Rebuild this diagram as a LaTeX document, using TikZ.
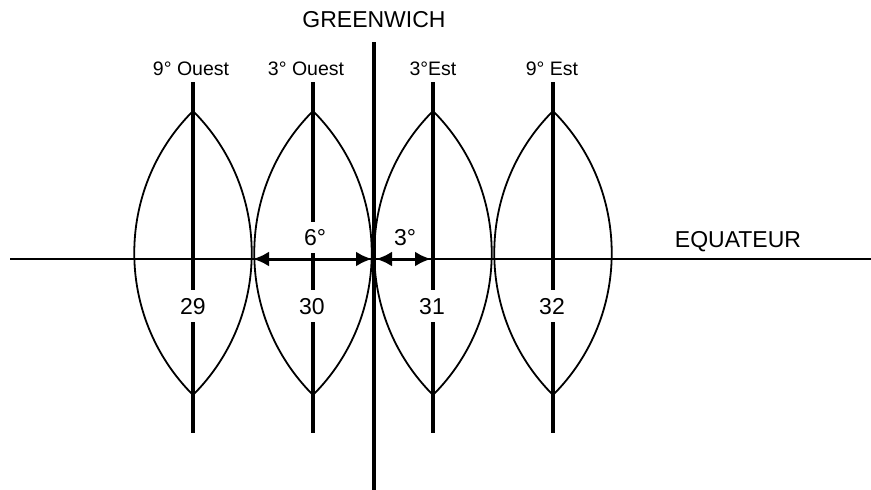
\documentclass[tikz,border=0pt]{standalone}
\usepackage{fontspec}
\setmainfont{Liberation Sans}
\usetikzlibrary{arrows.meta}
\begin{document}
\begin{tikzpicture}[x=1pt,y=-1pt,
  meridian/.style={line width=4.5pt},
  lens/.style={line width=1.8pt},
  equator/.style={line width=2.6pt},
  dimarrow/.style={line width=3pt,{Latex[length=16pt,width=15pt]}-{Latex[length=16pt,width=15pt]}},
  toplabel/.style={font=\fontsize{19.5}{22}\selectfont,inner sep=0pt},
  biglabel/.style={font=\fontsize{23}{26}\selectfont,inner sep=0pt}]
\useasboundingbox (0,0) rectangle (871,490);
% equator
\coordinate (eqL) at (10,259);
\coordinate (eqR) at (871,259);
\draw[equator] (eqL) -- (eqR);
% Greenwich
\coordinate (gT) at (374,42);
\coordinate (gB) at (374,490);
\draw[meridian] (gT) -- (gB);
% lenses
\foreach \n/\x in {29/193,30/313,31/433,32/553}{
  \coordinate (t\n) at (\x,111);
  \coordinate (b\n) at (\x,395);
  \draw[lens] (t\n) to[bend left=45] (b\n) to[bend left=45] (t\n);
  \coordinate (mT\n) at (\x,82);
  \coordinate (mB\n) at (\x,433);
  \coordinate (mU\n) at (\x,322);
}
% meridian segments
\coordinate (m29a) at (193,290);
\coordinate (m30a) at (313,222);
\coordinate (m30b) at (313,253);
\coordinate (m30c) at (313,290);
\coordinate (m31a) at (433,290);
\coordinate (m32a) at (553,290);
\draw[meridian] (mT29) -- (m29a) (mU29) -- (mB29);
\draw[meridian] (mT30) -- (m30a) (m30b) -- (m30c) (mU30) -- (mB30);
\draw[meridian] (mT31) -- (m31a) (mU31) -- (mB31);
\draw[meridian] (mT32) -- (m32a) (mU32) -- (mB32);
% dimension arrows
\coordinate (a6L) at (253,259);
\coordinate (a6R) at (372,259);
\coordinate (a3L) at (376,259);
\coordinate (a3R) at (431,259);
\draw[dimarrow] (a6L) -- (a6R);
\draw[dimarrow] (a3L) -- (a3R);
% labels
\node[biglabel] (greenwich) at (374,20) {GREENWICH};
\node[toplabel] (w9) at (191,69) {9° Ouest};
\node[toplabel] (w3) at (306,69) {3° Ouest};
\node[toplabel] (e3) at (433,69) {3°Est};
\node[toplabel] (e9) at (552,69) {9° Est};
\node[biglabel] (d6) at (315,238) {6°};
\node[biglabel] (d3) at (405,238) {3°};
\node[biglabel] (equateur) at (738,242) {EQUATEUR};
\node[biglabel] (z29) at (193,307) {29};
\node[biglabel] (z30) at (312,307) {30};
\node[biglabel] (z31) at (432,307) {31};
\node[biglabel] (z32) at (552,307) {32};
\end{tikzpicture}
\end{document}
